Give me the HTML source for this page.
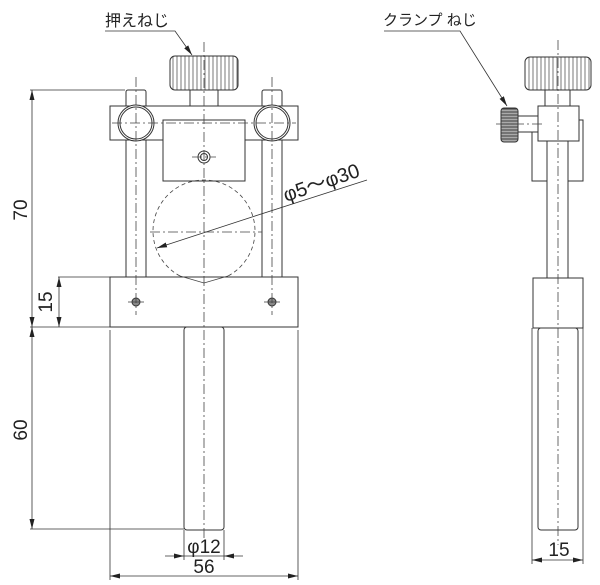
<!DOCTYPE html>
<html><head><meta charset="utf-8"><style>body{margin:0;background:#fff}svg{display:block}</style></head><body>
<svg width="600" height="585" viewBox="0 0 600 585" xmlns="http://www.w3.org/2000/svg" font-family="Liberation Sans, Noto Sans CJK JP, sans-serif">
<defs>
<marker id="a" markerWidth="10" markerHeight="6" refX="10" refY="3" orient="auto-start-reverse" markerUnits="userSpaceOnUse"><path d="M0,0.5 L10,3 L0,5.5z" fill="#222"/></marker>
<pattern id="kn" width="4" height="10" patternUnits="userSpaceOnUse"><rect width="4" height="10" fill="#fff"/><line x1="1" y1="0" x2="1" y2="10" stroke="#555" stroke-width="0.8"/></pattern>
<pattern id="kn2" width="10" height="3" patternUnits="userSpaceOnUse"><rect width="10" height="3" fill="#aaa"/><line x1="0" y1="1" x2="10" y2="1" stroke="#333" stroke-width="0.9"/></pattern>
</defs>
<g fill="#fff" stroke="#333" stroke-width="1">
<rect x="190" y="90" width="28" height="16"/>
<rect x="170" y="56" width="68" height="34" rx="5" fill="url(#kn)"/>
<rect x="126" y="90" width="20" height="190" rx="2"/>
<rect x="262" y="90" width="20" height="190" rx="2"/>
<path d="M110,106 H298 V140 H110Z"/>
<rect x="126" y="140" width="20" height="137"/>
<rect x="262" y="140" width="20" height="137"/>
<circle cx="136" cy="123" r="18"/><circle cx="136" cy="123" r="16"/>
<circle cx="272" cy="123" r="18"/><circle cx="272" cy="123" r="16"/>
<rect x="163" y="120" width="82" height="61"/>
<circle cx="204" cy="157" r="6"/><circle cx="204" cy="157" r="3.5"/>
<rect x="184" y="327" width="40" height="203" rx="3"/>
<rect x="110" y="277" width="188" height="50"/>
<circle cx="136" cy="302" r="4" fill="#888"/><circle cx="272" cy="302" r="4" fill="#888"/>
<rect x="545" y="90" width="25" height="16"/>
<rect x="525" y="57" width="66" height="33" rx="5" fill="url(#kn)"/>
<rect x="532" y="120" width="51" height="61"/>
<rect x="538" y="106" width="41" height="35"/>
<rect x="547" y="141" width="21" height="137"/>
<rect x="538" y="328" width="40" height="202" rx="3"/>
<rect x="533" y="278" width="50" height="50"/>
<rect x="518" y="116" width="20" height="16"/>
<rect x="501" y="108" width="17" height="34" rx="3" fill="url(#kn2)"/>
</g>
<g fill="none" stroke="#444" stroke-width="0.8" stroke-dasharray="10,3,2,3">
<line x1="204" y1="42" x2="204" y2="540"/>
<line x1="136" y1="77" x2="136" y2="315"/>
<line x1="272" y1="77" x2="272" y2="315"/>
<line x1="112" y1="123" x2="296" y2="123"/>
<line x1="150" y1="232" x2="262" y2="232"/>
<line x1="192" y1="157" x2="216" y2="157"/>
<line x1="558" y1="40" x2="558" y2="545"/>
<line x1="496" y1="124" x2="545" y2="124"/>
<path d="M180,276 A51,51 0 1 1 228,276" stroke-dasharray="4,3"/>
<path d="M180,276 L204,283 L228,276" stroke-dasharray="none"/>
<line x1="128" y1="302" x2="144" y2="302" stroke-dasharray="none"/>
<line x1="264" y1="302" x2="280" y2="302" stroke-dasharray="none"/>
</g>
<g stroke="#333" stroke-width="0.8" fill="none">
<line x1="30" y1="90" x2="125" y2="90"/>
<line x1="58" y1="277" x2="110" y2="277"/>
<line x1="30" y1="327" x2="110" y2="327"/>
<line x1="30" y1="529" x2="184" y2="529"/>
<line x1="32" y1="90" x2="32" y2="327" marker-start="url(#a)" marker-end="url(#a)"/>
<line x1="59" y1="277" x2="59" y2="327" marker-start="url(#a)" marker-end="url(#a)"/>
<line x1="32" y1="327" x2="32" y2="529" marker-start="url(#a)" marker-end="url(#a)"/>
<line x1="110" y1="330" x2="110" y2="580"/>
<line x1="298" y1="330" x2="298" y2="580"/>
<line x1="110" y1="576" x2="298" y2="576" marker-start="url(#a)" marker-end="url(#a)"/>
<line x1="184" y1="530" x2="184" y2="560"/>
<line x1="224" y1="530" x2="224" y2="560"/>
<line x1="165" y1="556" x2="184" y2="556" marker-end="url(#a)"/>
<line x1="243" y1="556" x2="224" y2="556" marker-end="url(#a)"/>
<line x1="184" y1="556" x2="224" y2="556"/>
<line x1="532" y1="328" x2="532" y2="564"/>
<line x1="583" y1="328" x2="583" y2="564"/>
<line x1="532" y1="560" x2="583" y2="560" marker-start="url(#a)" marker-end="url(#a)"/>
<line x1="157" y1="248" x2="252" y2="217" marker-start="url(#a)"/>
<line x1="252" y1="217" x2="367" y2="180"/>
<path d="M105,31 H175 L192,55" marker-end="url(#a)"/>
<path d="M384,31 H460 L507,106" marker-end="url(#a)"/>
</g>
<g fill="#222" font-size="19">
<text x="105" y="26" font-size="16">押えねじ</text>
<text x="383" y="25" font-size="15">クランプ ねじ</text>
<text x="27" y="210" text-anchor="middle" transform="rotate(-90 27 210)">70</text>
<text x="52" y="302" text-anchor="middle" transform="rotate(-90 52 302)">15</text>
<text x="27" y="430" text-anchor="middle" transform="rotate(-90 27 430)">60</text>
<text x="204" y="553" text-anchor="middle">φ12</text>
<text x="204" y="573" text-anchor="middle">56</text>
<text x="559" y="556" text-anchor="middle">15</text>
<text x="286" y="202" font-size="20" transform="rotate(-19 286 202)">φ5～φ30</text>
</g>
</svg>
</body></html>
